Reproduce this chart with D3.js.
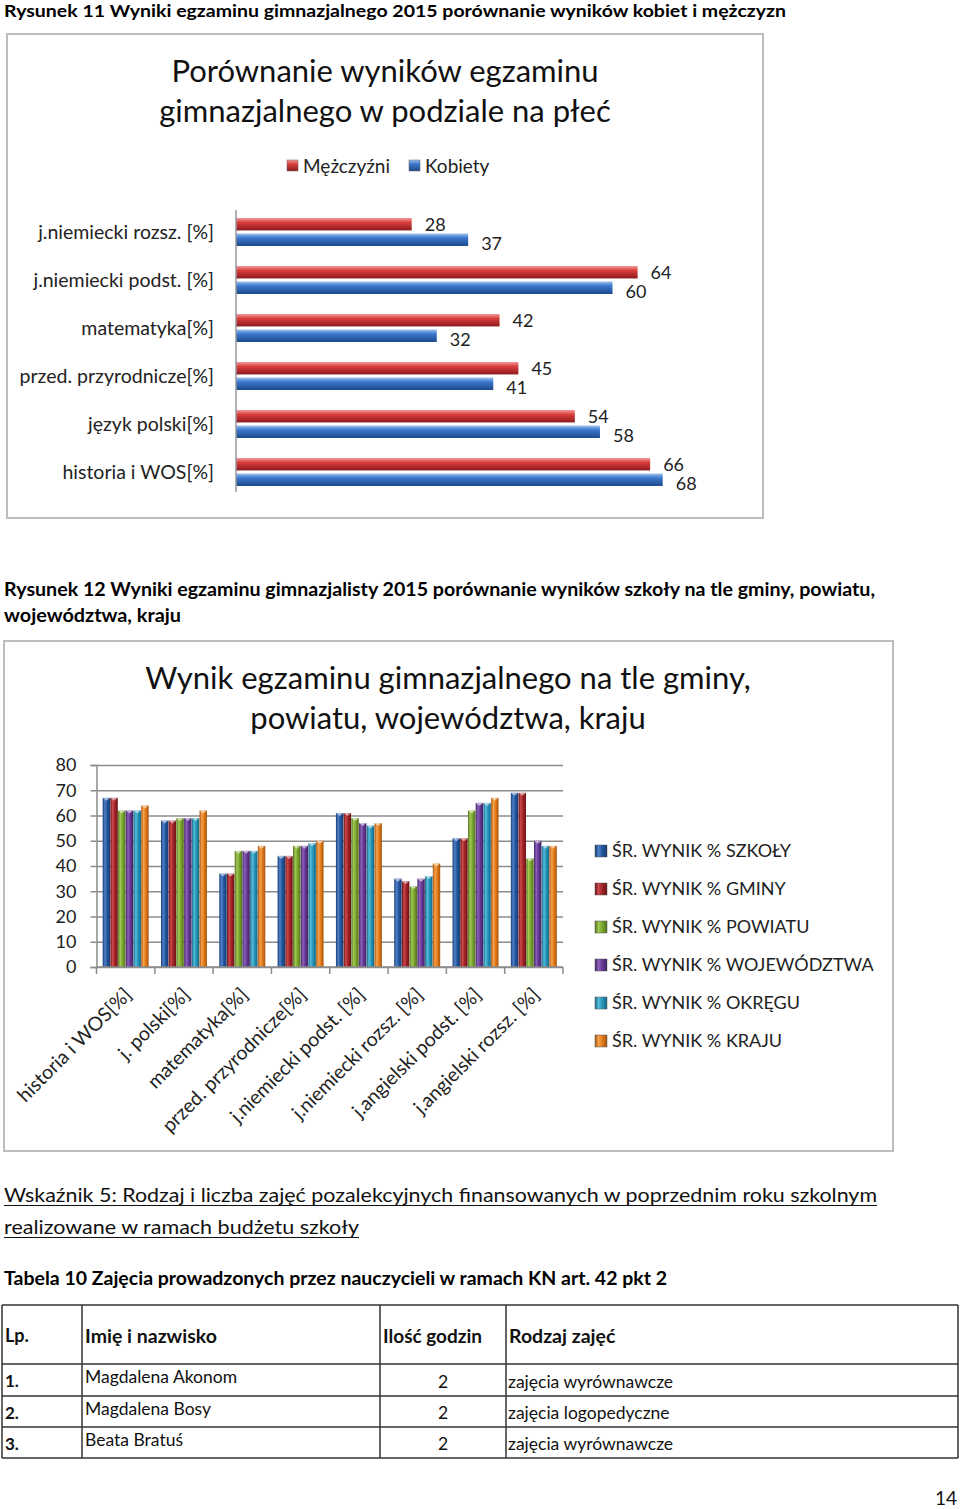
<!DOCTYPE html>
<html>
<head>
<meta charset="utf-8">
<script src="https://cdn.jsdelivr.net/npm/d3@7"></script>
<style>
  html, body { margin: 0; padding: 0; background: #fff; }
  svg { display: block; font-family: Lato, "Open Sans", sans-serif; }
</style>
</head>
<body>
<svg id="page" width="960" height="1509"></svg>
<script>
// ---------- DATA ----------
const genderCategories = ["j.niemiecki rozsz. [%]", "j.niemiecki podst. [%]", "matematyka[%]", "przed. przyrodnicze[%]", "język polski[%]", "historia i WOS[%]"];
const genderSeries = ["Mężczyźni", "Kobiety"];
const menValues = [28, 64, 42, 45, 54, 66];
const womenValues = [37, 60, 32, 41, 58, 68];

const subjectCategories = ["historia i WOS[%]", "j. polski[%]", "matematyka[%]", "przed. przyrodnicze[%]", "j.niemiecki podst. [%]", "j.niemiecki rozsz. [%]", "j.angielski podst. [%]", "j.angielski rozsz. [%]"];
const seriesNames = ["ŚR. WYNIK % SZKOŁY", "ŚR. WYNIK % GMINY", "ŚR. WYNIK % POWIATU", "ŚR. WYNIK % WOJEWÓDZTWA", "ŚR. WYNIK % OKRĘGU", "ŚR. WYNIK % KRAJU"];
const szkolyValues = [67, 58, 37, 44, 61, 35, 51, 69];
const gminyValues = [67, 58, 37, 44, 61, 34, 51, 69];
const powiatuValues = [62, 59, 46, 48, 59, 32, 62, 43];
const wojewodztwaValues = [62, 59, 46, 48, 57, 35, 65, 50];
const okreguValues = [62, 59, 46, 49, 56, 36, 65, 48];
const krajuValues = [64, 62, 48, 50, 57, 41, 67, 48];
const yTicks = [0, 10, 20, 30, 40, 50, 60, 70, 80];

const tableHeader = ["Lp.", "Imię i nazwisko", "Ilość godzin", "Rodzaj zajęć"];
const tableLp = ["1.", "2.", "3."];
const tableNames = ["Magdalena Akonom", "Magdalena Bosy", "Beata Bratuś"];
const tableHours = ["2", "2", "2"];
const tableKinds = ["zajęcia wyrównawcze", "zajęcia logopedyczne", "zajęcia wyrównawcze"];

// ---------- SETUP ----------
const svg = d3.select("#page");
const defs = svg.append("defs");

function hGrad(id, light, base, dark) {
  const g = defs.append("linearGradient").attr("id", id).attr("x1", 0).attr("y1", 0).attr("x2", 0).attr("y2", 1);
  g.append("stop").attr("offset", "0%").attr("stop-color", light);
  g.append("stop").attr("offset", "35%").attr("stop-color", base);
  g.append("stop").attr("offset", "100%").attr("stop-color", dark);
}
function vGrad(id, light, base, dark) {
  const g = defs.append("linearGradient").attr("id", id).attr("x1", 0).attr("y1", 0).attr("x2", 1).attr("y2", 0);
  g.append("stop").attr("offset", "0%").attr("stop-color", dark);
  g.append("stop").attr("offset", "30%").attr("stop-color", light);
  g.append("stop").attr("offset", "60%").attr("stop-color", base);
  g.append("stop").attr("offset", "100%").attr("stop-color", dark);
}
hGrad("gRed", "#f39a98", "#d9403e", "#8e1c1c");
hGrad("gBlue", "#9cc1ee", "#3d77cc", "#1c4a8c");

const seriesColors = [
  ["#4f80c8", "#24579f", "#153a72"],
  ["#cc4a4c", "#a22226", "#6a1315"],
  ["#a2c855", "#7ba62e", "#52731b"],
  ["#8c62bb", "#653894", "#422362"],
  ["#55bcda", "#2696ba", "#156683"],
  ["#f5a24f", "#e47c18", "#a6530c"]
];
seriesColors.forEach((c, i) => vGrad("s" + i, c[0], c[1], c[2]));

// ---------- CAPTION 1 ----------
svg.append("text").attr("x", 4).attr("y", 17).attr("font-weight", "bold").attr("font-size", 17.5)
  .attr("textLength", 782).attr("lengthAdjust", "spacingAndGlyphs")
  .text("Rysunek 11 Wyniki egzaminu gimnazjalnego 2015 porównanie wyników kobiet i mężczyzn");

// ---------- CHART 1 ----------
svg.append("rect").attr("x", 7).attr("y", 34).attr("width", 756).attr("height", 484)
  .attr("fill", "#fff").attr("stroke", "#bdbdbd").attr("stroke-width", 2);

const t1 = svg.append("text").attr("text-anchor", "middle").attr("font-size", 31).attr("fill", "#111");
t1.append("tspan").attr("x", 385).attr("y", 82).text("Porównanie wyników egzaminu");
t1.append("tspan").attr("x", 385).attr("y", 122).text("gimnazjalnego w podziale na płeć");

// legend 1
const leg1 = [{ name: genderSeries[0], fill: "url(#gRed)", x: 287 }, { name: genderSeries[1], fill: "url(#gBlue)", x: 409 }];
leg1.forEach(l => {
  svg.append("rect").attr("x", l.x).attr("y", 160).attr("width", 11).attr("height", 11).attr("fill", l.fill).attr("stroke", "#666").attr("stroke-width", 0.5);
  svg.append("text").attr("x", l.x + 16).attr("y", 166).attr("dy", "0.35em").attr("font-size", 19).attr("fill", "#222").text(l.name);
});

const x1 = d3.scaleLinear().domain([0, 80]).range([236, 738]);
const y1 = d3.scaleBand().domain(genderCategories).range([208, 496]);
const y1inner = d3.scaleBand().domain(genderSeries).range([10, 38]).paddingInner(0.2);

// category labels
svg.append("g").selectAll("text").data(genderCategories).join("text")
  .attr("x", 214).attr("y", d => y1(d) + y1.bandwidth() / 2).attr("dy", "0.35em")
  .attr("text-anchor", "end").attr("font-size", 19.5).attr("fill", "#222").text(d => d);

const bars1 = [];
genderCategories.forEach((c, i) => {
  bars1.push({ cat: c, s: genderSeries[0], v: menValues[i], fill: "url(#gRed)", off: 0 });
  bars1.push({ cat: c, s: genderSeries[1], v: womenValues[i], fill: "url(#gBlue)", off: 3.5 });
});
const g1 = svg.append("g");
g1.selectAll("rect").data(bars1).join("rect")
  .attr("x", x1(0)).attr("y", d => y1(d.cat) + y1inner(d.s))
  .attr("width", d => x1(d.v) - x1(0)).attr("height", y1inner.bandwidth())
  .attr("fill", d => d.fill);
g1.selectAll("text").data(bars1).join("text")
  .attr("x", d => x1(d.v) + 13).attr("y", d => y1(d.cat) + y1inner(d.s) + y1inner.bandwidth() / 2 + d.off)
  .attr("dy", "0.35em").attr("font-size", 18).attr("fill", "#222").text(d => d.v);

svg.append("line").attr("x1", x1(0)).attr("x2", x1(0)).attr("y1", 210).attr("y2", 492)
  .attr("stroke", "#999").attr("stroke-width", 1.5);

// ---------- CAPTION 2 ----------
svg.append("text").attr("x", 4).attr("y", 596).attr("font-weight", "bold").attr("font-size", 18)
  .attr("textLength", 871).attr("lengthAdjust", "spacingAndGlyphs")
  .text("Rysunek 12 Wyniki egzaminu gimnazjalisty 2015 porównanie wyników szkoły na tle gminy, powiatu,");
svg.append("text").attr("x", 4).attr("y", 622).attr("font-weight", "bold").attr("font-size", 18)
  .attr("textLength", 177).attr("lengthAdjust", "spacingAndGlyphs")
  .text("województwa, kraju");

// ---------- CHART 2 ----------
svg.append("rect").attr("x", 4).attr("y", 641).attr("width", 889).attr("height", 510)
  .attr("fill", "#fff").attr("stroke", "#bdbdbd").attr("stroke-width", 2);

const t2 = svg.append("text").attr("text-anchor", "middle").attr("font-size", 31).attr("fill", "#111");
t2.append("tspan").attr("x", 448).attr("y", 689).text("Wynik egzaminu gimnazjalnego na tle gminy,");
t2.append("tspan").attr("x", 448).attr("y", 729).text("powiatu, województwa, kraju");

const x2 = d3.scaleBand().domain(subjectCategories).range([96.5, 563]);
const x2inner = d3.scaleBand().domain(seriesNames).range([0, x2.bandwidth()]).paddingOuter(0.8).paddingInner(0.04);
const y2 = d3.scaleLinear().domain([0, 80]).range([967, 765]);

// gridlines
svg.append("g").attr("transform", `translate(${x2.range()[0]},0)`)
  .call(d3.axisLeft(y2).tickValues(yTicks).tickSize(-(x2.range()[1] - x2.range()[0])).tickFormat(""))
  .call(g => g.select(".domain").remove())
  .call(g => g.selectAll("line").attr("stroke", "#8c8c8c").attr("stroke-width", 1.5));
// y axis
svg.append("g").attr("transform", `translate(${x2.range()[0]},0)`)
  .call(d3.axisLeft(y2).tickValues(yTicks).tickSize(6).tickPadding(14))
  .call(g => g.select(".domain").attr("stroke", "#8c8c8c").attr("stroke-width", 1.5))
  .call(g => g.selectAll("line").attr("stroke", "#8c8c8c").attr("stroke-width", 1.5))
  .call(g => g.selectAll("text").attr("font-size", 18).attr("fill", "#222").attr("font-family", "Lato, sans-serif"));

// bars
const seriesArrays = [szkolyValues, gminyValues, powiatuValues, wojewodztwaValues, okreguValues, krajuValues];
const bars2 = [];
subjectCategories.forEach((c, i) => {
  seriesNames.forEach((s, j) => bars2.push({ cat: c, s: s, j: j, v: seriesArrays[j][i] }));
});
const g2 = svg.append("g");
g2.selectAll("rect").data(bars2).join("rect")
  .attr("x", d => x2(d.cat) + x2inner(d.s)).attr("y", d => y2(d.v))
  .attr("width", x2inner.bandwidth()).attr("height", d => y2(0) - y2(d.v))
  .attr("fill", d => "url(#s" + d.j + ")");
// top bevel
g2.selectAll("path").data(bars2).join("path")
  .attr("d", d => {
    const bx = x2(d.cat) + x2inner(d.s), w = x2inner.bandwidth(), by = y2(d.v);
    return `M${bx},${by}L${bx + w},${by}L${bx + w / 2},${by + 3}Z`;
  })
  .attr("fill", "#fff").attr("opacity", 0.55);

// x axis
const xa = svg.append("g");
xa.append("line").attr("x1", x2.range()[0]).attr("x2", x2.range()[1]).attr("y1", y2(0)).attr("y2", y2(0))
  .attr("stroke", "#8c8c8c").attr("stroke-width", 1.5);
const boundaries = subjectCategories.map(c => x2(c)).concat([x2.range()[1]]);
xa.selectAll("line.tick").data(boundaries).join("line").attr("class", "tick")
  .attr("x1", d => d).attr("x2", d => d).attr("y1", y2(0)).attr("y2", y2(0) + 7)
  .attr("stroke", "#8c8c8c").attr("stroke-width", 1.5);
xa.selectAll("text").data(subjectCategories).join("text")
  .attr("transform", d => `translate(${x2(d) + x2.bandwidth() / 2 + 7},${996}) rotate(-45)`)
  .attr("text-anchor", "end").attr("font-size", 19.5).attr("fill", "#222").text(d => d);

// legend 2
const leg2 = svg.append("g");
seriesNames.forEach((s, j) => {
  const ly = 851 + j * 38;
  leg2.append("rect").attr("x", 595).attr("y", ly - 6).attr("width", 12).attr("height", 12)
    .attr("fill", "url(#s" + j + ")").attr("stroke", "#555").attr("stroke-width", 0.5);
  leg2.append("text").attr("x", 612).attr("y", ly).attr("dy", "0.35em").attr("font-size", 18).attr("fill", "#222").text(s);
});

// ---------- WSKAŹNIK ----------
const w1 = "Wskaźnik 5: Rodzaj i liczba zajęć pozalekcyjnych finansowanych w poprzednim roku szkolnym";
const w2 = "realizowane w ramach budżetu szkoły";
svg.append("text").attr("x", 4).attr("y", 1202).attr("font-size", 20).attr("fill", "#111")
  .attr("textLength", 873).attr("lengthAdjust", "spacingAndGlyphs").text(w1);
svg.append("line").attr("x1", 4).attr("x2", 877).attr("y1", 1205.5).attr("y2", 1205.5).attr("stroke", "#111").attr("stroke-width", 1.2);
svg.append("text").attr("x", 4).attr("y", 1234).attr("font-size", 20).attr("fill", "#111")
  .attr("textLength", 355).attr("lengthAdjust", "spacingAndGlyphs").text(w2);
svg.append("line").attr("x1", 4).attr("x2", 359).attr("y1", 1237.5).attr("y2", 1237.5).attr("stroke", "#111").attr("stroke-width", 1.2);

svg.append("text").attr("x", 4).attr("y", 1285).attr("font-weight", "bold").attr("font-size", 18)
  .attr("textLength", 663).attr("lengthAdjust", "spacingAndGlyphs")
  .text("Tabela 10 Zajęcia prowadzonych przez nauczycieli w ramach KN art. 42 pkt 2");

// ---------- TABLE ----------
const colX = [2, 82, 380, 506, 958];
const rowY = [1305, 1364, 1396, 1427, 1458];
const tg = svg.append("g").attr("stroke", "#333").attr("stroke-width", 1.5);
rowY.forEach(y => tg.append("line").attr("x1", colX[0]).attr("x2", colX[4]).attr("y1", y).attr("y2", y));
colX.forEach(x => tg.append("line").attr("x1", x).attr("x2", x).attr("y1", rowY[0]).attr("y2", rowY[4]));

const headerSizes = [18, 19.5, 19, 19.5];
tableHeader.forEach((h, i) => {
  svg.append("text").attr("x", colX[i] + 3).attr("y", 1336).attr("dy", "0.35em")
    .attr("font-weight", "bold").attr("font-size", headerSizes[i]).attr("fill", "#111").text(h);
});
tableLp.forEach((v, i) => {
  const cy = (rowY[i + 1] + rowY[i + 2]) / 2;
  svg.append("text").attr("x", colX[0] + 3).attr("y", cy + 1.5).attr("dy", "0.35em").attr("font-weight", "bold").attr("font-size", 17).attr("fill", "#111").text(v);
  svg.append("text").attr("x", colX[1] + 3).attr("y", cy - 3).attr("dy", "0.35em").attr("font-size", 17.5).attr("fill", "#111").text(tableNames[i]);
  svg.append("text").attr("x", (colX[2] + colX[3]) / 2 + 0).attr("y", cy + 1.5).attr("dy", "0.35em").attr("text-anchor", "middle").attr("font-size", 17.5).attr("fill", "#111").text(tableHours[i]);
  svg.append("text").attr("x", colX[3] + 2).attr("y", cy + 1.5).attr("dy", "0.35em").attr("font-size", 17.5).attr("fill", "#111").text(tableKinds[i]);
});

// page number
svg.append("text").attr("x", 957).attr("y", 1498).attr("dy", "0.35em").attr("text-anchor", "end").attr("font-size", 19).attr("fill", "#111").text("14");
</script>
</body>
</html>
